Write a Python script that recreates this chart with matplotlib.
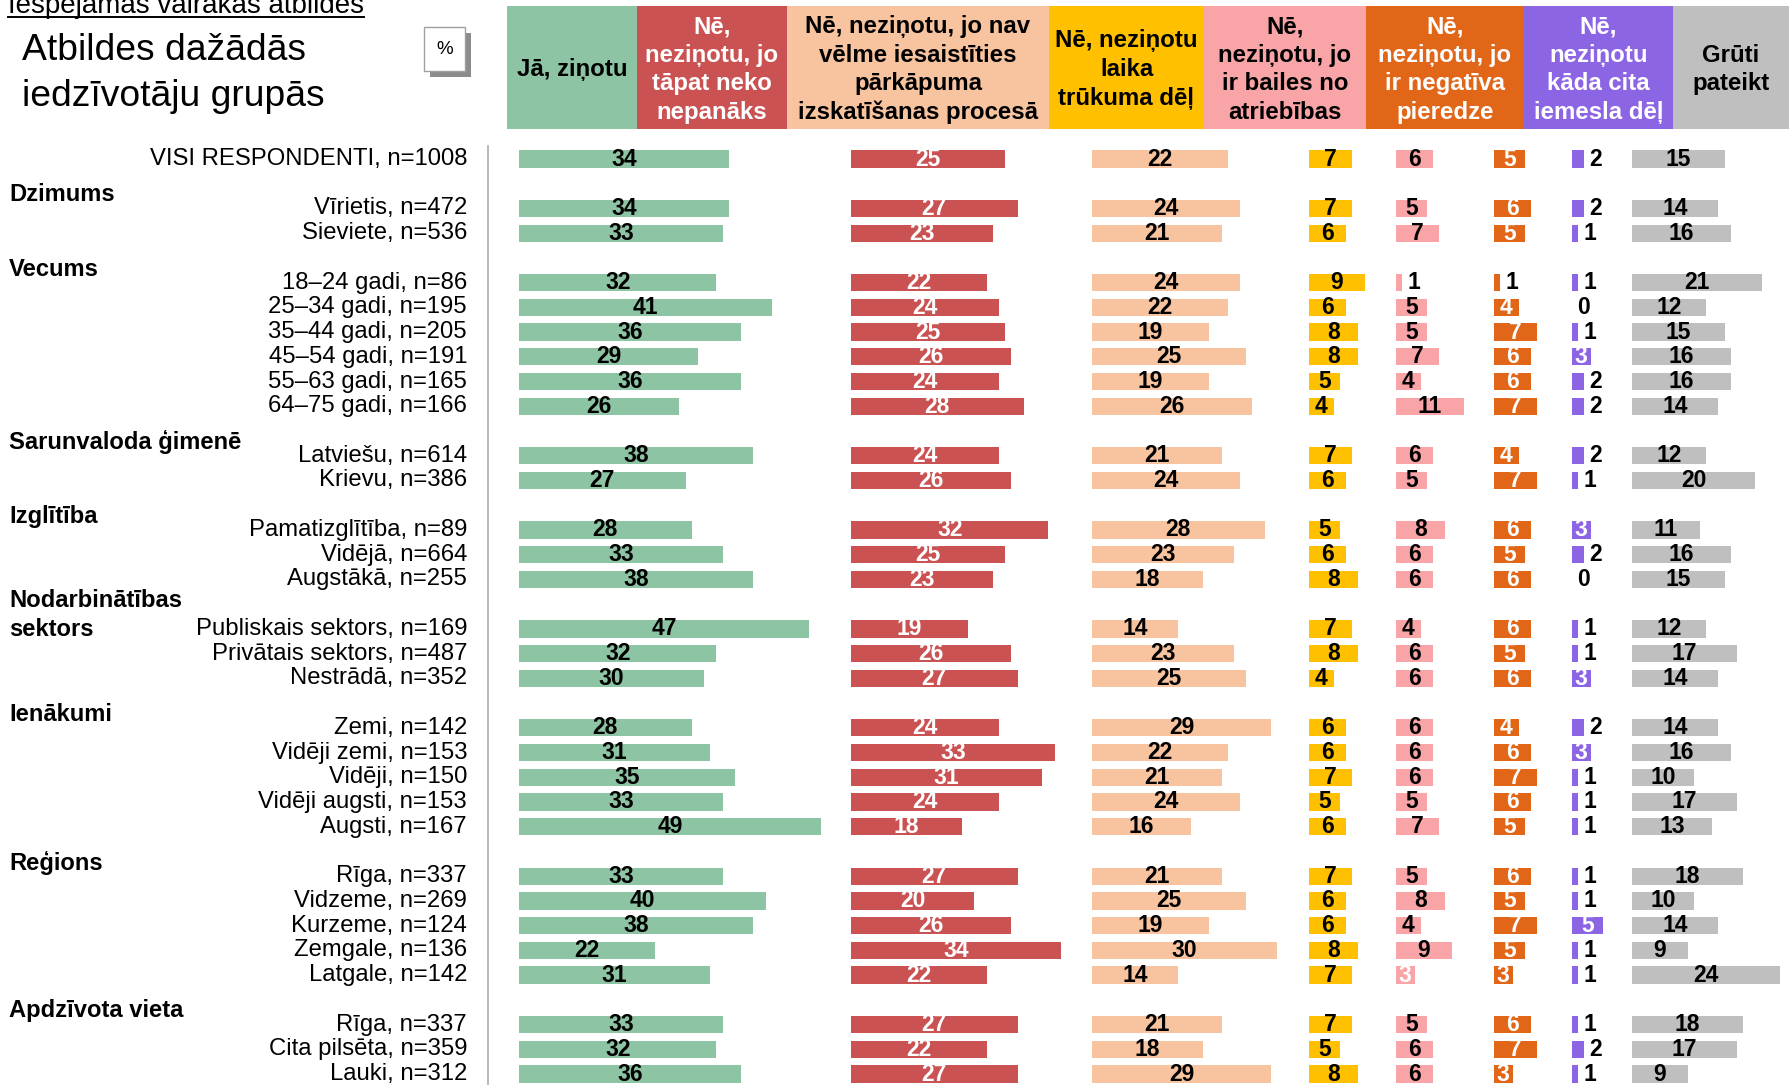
import matplotlib
matplotlib.use("Agg")
import matplotlib.pyplot as plt
import matplotlib.transforms as mtransforms
from matplotlib.patches import Rectangle
from matplotlib.lines import Line2D

plt.rcParams['font.family'] = ['Liberation Sans', 'DejaVu Sans']

# ---- data ----
group_names = [None, "Dzimums", "Vecums", "Sarunvaloda ģimenē", "Izglītība",
               "Nodarbinātības\nsektors", "Ienākumi", "Reģions", "Apdzīvota vieta"]
group_sizes = [1, 2, 6, 2, 3, 3, 5, 5, 3]

labels = ["VISI RESPONDENTI, n=1008",
          "Vīrietis, n=472", "Sieviete, n=536",
          "18–24 gadi, n=86", "25–34 gadi, n=195", "35–44 gadi, n=205",
          "45–54 gadi, n=191", "55–63 gadi, n=165", "64–75 gadi, n=166",
          "Latviešu, n=614", "Krievu, n=386",
          "Pamatizglītība, n=89", "Vidējā, n=664", "Augstākā, n=255",
          "Publiskais sektors, n=169", "Privātais sektors, n=487", "Nestrādā, n=352",
          "Zemi, n=142", "Vidēji zemi, n=153", "Vidēji, n=150",
          "Vidēji augsti, n=153", "Augsti, n=167",
          "Rīga, n=337", "Vidzeme, n=269", "Kurzeme, n=124", "Zemgale, n=136", "Latgale, n=142",
          "Rīga, n=337", "Cita pilsēta, n=359", "Lauki, n=312"]

ja          = [34, 34, 33, 32, 41, 36, 29, 36, 26, 38, 27, 28, 33, 38, 47, 32, 30,
               28, 31, 35, 33, 49, 33, 40, 38, 22, 31, 33, 32, 36]
ne_nepanaks = [25, 27, 23, 22, 24, 25, 26, 24, 28, 24, 26, 32, 25, 23, 19, 26, 27,
               24, 33, 31, 24, 18, 27, 20, 26, 34, 22, 27, 22, 27]
ne_velme    = [22, 24, 21, 24, 22, 19, 25, 19, 26, 21, 24, 28, 23, 18, 14, 23, 25,
               29, 22, 21, 24, 16, 21, 25, 19, 30, 14, 21, 18, 29]
ne_laiks    = [7, 7, 6, 9, 6, 8, 8, 5, 4, 7, 6, 5, 6, 8, 7, 8, 4,
               6, 6, 7, 5, 6, 7, 6, 6, 8, 7, 7, 5, 8]
ne_bailes   = [6, 5, 7, 1, 5, 5, 7, 4, 11, 6, 5, 8, 6, 6, 4, 6, 6,
               6, 6, 6, 5, 7, 5, 8, 4, 9, 3, 5, 6, 6]
ne_negativa = [5, 6, 5, 1, 4, 7, 6, 6, 7, 4, 7, 6, 5, 6, 6, 5, 6,
               4, 6, 7, 6, 5, 6, 5, 7, 5, 3, 6, 7, 3]
ne_cits     = [2, 2, 1, 1, 0, 1, 3, 2, 2, 2, 1, 3, 2, 0, 1, 1, 3,
               2, 3, 1, 1, 1, 1, 1, 5, 1, 1, 1, 2, 1]
gruti       = [15, 14, 16, 21, 12, 15, 16, 16, 14, 12, 20, 11, 16, 15, 12, 17, 14,
               14, 16, 10, 17, 13, 18, 10, 14, 9, 24, 18, 17, 9]

headers = ["Jā, ziņotu",
           "Nē,\nneziņotu, jo\ntāpat neko\nnepanāks",
           "Nē, neziņotu, jo nav\nvēlme iesaistīties\npārkāpuma\nizskatīšanas procesā",
           "Nē, neziņotu\nlaika\ntrūkuma dēļ",
           "Nē,\nneziņotu, jo\nir bailes no\natriebības",
           "Nē,\nneziņotu, jo\nir negatīva\npieredze",
           "Nē,\nneziņotu\nkāda cita\niemesla dēļ",
           "Grūti\npateikt"]
series = [ja, ne_nepanaks, ne_velme, ne_laiks, ne_bailes, ne_negativa, ne_cits, gruti]

colors = ["#8dc4a4", "#ca5252", "#f8c4a0", "#ffc000", "#f9a5a7", "#e16618", "#8b65e4", "#bfbfbf"]
text_colors = ["black", "white", "black", "black", "black", "white", "white", "black"]

# ---- layout (pixels) ----
W, H = 1789, 1085
ROW0, PITCH = 159.0, 24.73
PX_UNIT = 6.17
bar_left = [519, 851, 1092, 1309, 1396, 1494, 1572, 1632, W]
head_edges = [507, 637, 787, 1049, 1204, 1366, 1524, 1673, W]
HEAD_TOP, HEAD_BOT = 6, 129


def fx(x):
    return x / W


def fy(y):
    return 1 - y / H


# row positions, blank row before every group except the first
rows, head_rows = [], []
r = 0
for gi, size in enumerate(group_sizes):
    if gi > 0:
        head_rows.append(r)
        r += 1
    rows.extend(range(r, r + size))
    r += size

fig = plt.figure(figsize=(W / 100, H / 100), dpi=100, facecolor="white")

ax_top, ax_bot = 140, H
ylim = ((ax_bot - ROW0) / PITCH, (ax_top - ROW0) / PITCH)

axes = []
for i, vals in enumerate(series):
    left, right = bar_left[i], bar_left[i + 1]
    ax = fig.add_axes([fx(left), fy(ax_bot), (right - left) / W, (ax_bot - ax_top) / H])
    ax.set_xlim(0, (right - left) / PX_UNIT)
    ax.set_ylim(*ylim)
    ax.axis("off")
    ax.barh(rows, vals, height=0.7, color=colors[i], edgecolor="none")
    for y, v in zip(rows, vals):
        if v < 3:
            ax.text(v + 5 / PX_UNIT, y, str(v), ha="left", va="center",
                    fontsize=16.5, fontweight="bold", color="black", clip_on=False)
        else:
            c = "white" if v == 3 else text_colors[i]
            ax.text(v / 2, y, str(v), ha="center", va="center",
                    fontsize=16.5, fontweight="bold", color=c, clip_on=False)
    axes.append(ax)

# row labels and group names
tr = mtransforms.blended_transform_factory(fig.transFigure, axes[0].transData)
for y, lab in zip(rows, labels):
    fig.text(fx(467), y, lab, transform=tr, ha="right", va="center", fontsize=17.2)

for hr, name in zip(head_rows, group_names[1:]):
    lines = name.split("\n")
    for k, line in enumerate(lines):
        off = (k - (len(lines) - 1) / 2) * 1.17
        fig.text(fx(9), hr + 0.45 + off, line, transform=tr, ha="left", va="center",
                 fontsize=17.1, fontweight="bold")

# separator line
fig.add_artist(Line2D([fx(488), fx(488)], [fy(146), fy(H)], transform=fig.transFigure,
                      color="#a6a6a6", lw=1.1))

# column headers
for i, h in enumerate(headers):
    x0, x1 = head_edges[i], head_edges[i + 1]
    fig.add_artist(Rectangle((fx(x0), fy(HEAD_BOT)), (x1 - x0) / W, (HEAD_BOT - HEAD_TOP) / H,
                             transform=fig.transFigure, facecolor=colors[i], edgecolor="none"))
    lines = h.split("\n")
    yc = (HEAD_TOP + HEAD_BOT) / 2 + 2
    for k, line in enumerate(lines):
        y = yc + (k - (len(lines) - 1) / 2) * 28.5
        fig.text(fx((x0 + x1) / 2), fy(y), line, ha="center", va="center",
                 fontsize=17.3, fontweight="bold", color=text_colors[i])

# title
fig.text(fx(22), fy(50.5), "Atbildes dažādās", ha="left", va="center", fontsize=26.8)
fig.text(fx(22), fy(96.5), "iedzīvotāju grupās", ha="left", va="center", fontsize=26.8)

# percent box with shadow
fig.add_artist(Rectangle((fx(430), fy(77)), 41 / W, 44 / H, transform=fig.transFigure,
                         facecolor="#8c8c8c", edgecolor="none"))
fig.add_artist(Rectangle((fx(424), fy(71)), 41 / W, 44 / H, transform=fig.transFigure,
                         facecolor="white", edgecolor="#a0a0a0", lw=1))
fig.text(fx(444.5), fy(50), "%", ha="center", va="center", fontsize=13.5)

# note at the very top (cut off by the edge, as in the source), underlined
note = fig.text(fx(8), fy(13), "Iespējamas vairākas atbildes", ha="left", va="baseline",
                fontsize=20)
fig.canvas.draw()
bb = note.get_window_extent()
fig.add_artist(Line2D([bb.x0 / W, bb.x1 / W], [fy(16.7), fy(16.7)], transform=fig.transFigure,
                      color="black", lw=1.4))

fig.savefig("out.png", dpi=100, facecolor="white")
